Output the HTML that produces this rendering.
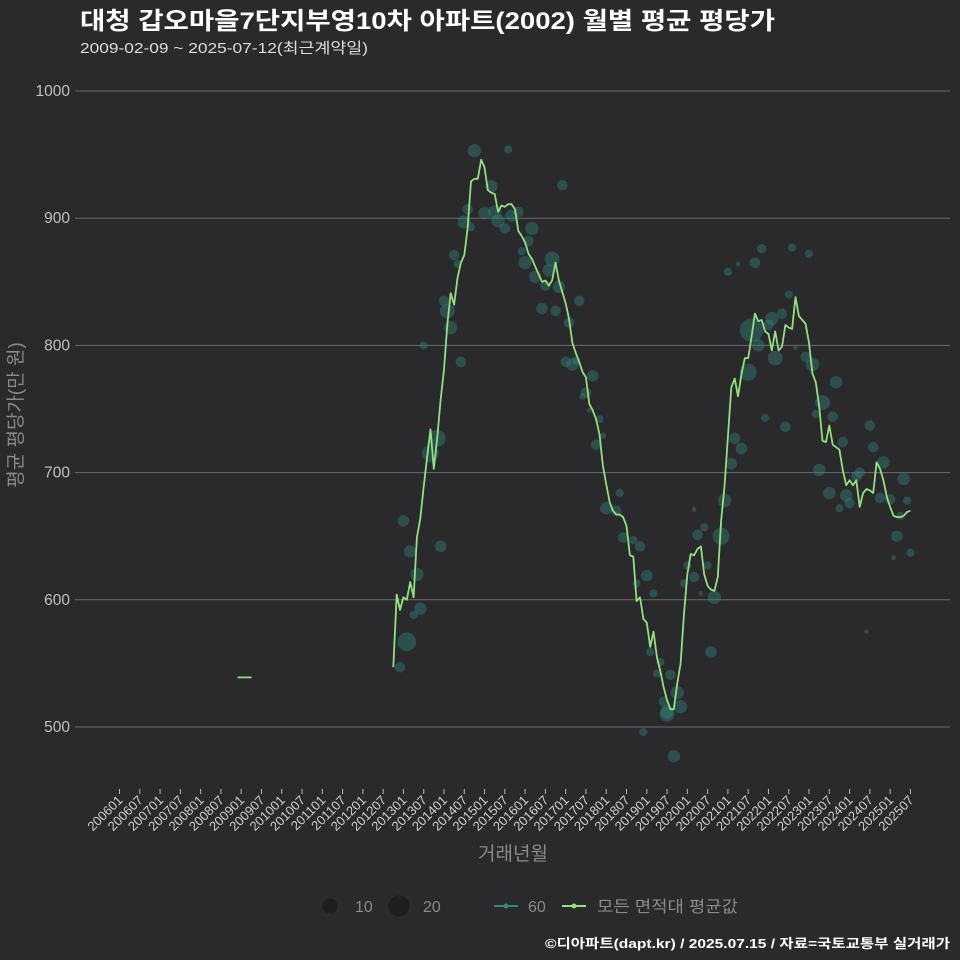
<!DOCTYPE html>
<html><head><meta charset="utf-8">
<style>
html,body{margin:0;padding:0;background:#2a2a2c;}
svg{display:block;font-family:"Liberation Sans","Noto Sans CJK KR",sans-serif;}
</style></head>
<body>
<svg id="chart" width="960" height="960" viewBox="0 0 960 960">
<rect x="0" y="0" width="960" height="960" fill="#2a2a2c"/>
<text x="80" y="29" font-size="24" font-weight="bold" fill="#ffffff" textLength="695" lengthAdjust="spacingAndGlyphs">대청 갑오마을7단지부영10차 아파트(2002) 월별 평균 평당가</text>
<text x="80" y="53" font-size="15" fill="#dddddd" textLength="288" lengthAdjust="spacingAndGlyphs">2009-02-09 ~ 2025-07-12(최근계약일)</text>
<g id="grid"></g>
<g id="yticks"></g>
<g id="xticks"></g>
<g id="bubbles"></g>
<g id="line"></g>
<text transform="translate(22,415) rotate(-90)" text-anchor="middle" font-size="19" fill="#8a8a8a">평균 평당가(만 원)</text>
<text x="513" y="860" text-anchor="middle" font-size="19" fill="#8a8a8a">거래년월</text>
<g>
<circle cx="330" cy="906" r="7.5" fill="#1e1e20"/>
<text x="355" y="912" font-size="16" fill="#8a8a8a">10</text>
<circle cx="399" cy="906" r="10.5" fill="#1e1e20"/>
<text x="423" y="912" font-size="16" fill="#8a8a8a">20</text>
<line x1="494" y1="906" x2="518" y2="906" stroke="#2a8a84" stroke-width="2"/>
<circle cx="506" cy="906" r="2.5" fill="#2a8a84"/>
<text x="528" y="912" font-size="16" fill="#8a8a8a">60</text>
<line x1="562" y1="906" x2="586" y2="906" stroke="#90e27c" stroke-width="2"/>
<circle cx="574" cy="906" r="2.5" fill="#90e27c"/>
<text x="597" y="912" font-size="16" fill="#8a8a8a" textLength="141" lengthAdjust="spacingAndGlyphs">모든 면적대 평균값</text>
</g>
<text x="950" y="948" text-anchor="end" font-size="13" font-weight="bold" fill="#ffffff" textLength="405" lengthAdjust="spacingAndGlyphs">©디아파트(dapt.kr) / 2025.07.15 / 자료=국토교통부 실거래가</text>
</svg>
<script>
const yTicks = [500, 600, 700, 800, 900, 1000];
const xTickLabels = ["200601","200607","200701","200707","200801","200807","200901","200907","201001","201007","201101","201107","201201","201207","201301","201307","201401","201407","201501","201507","201601","201607","201701","201707","201801","201807","201901","201907","202001","202007","202101","202107","202201","202207","202301","202307","202401","202407","202501","202507"];
const singleMonths = ["200902"];
const singleValues = [539];
const lineStart = "201210";
const lineValues = [547,604,592,602,600,614,602,649,664,689,712,734,703,727,757,781,817,841,832,853,865,871,892,929,931,931,946,940,922,920,919,905,910,909,911,911,907,890,886,881,872,868,862,856,850,851,847,851,865,851,842,833,821,802,794,787,779,775,754,749,742,730,706,691,677,670,667,667,665,658,635,634,599,602,585,582,563,575,555,544,531,521,514,514,534,550,589,620,636,635,640,642,620,611,608,607,618,662,689,728,767,774,760,777,790,790,807,825,819,820,811,809,796,811,796,799,816,814,813,838,823,820,817,802,778,771,752,725,724,737,722,720,718,702,690,694,690,694,673,684,687,686,684,708,703,694,681,673,666,665,665,666,669,670];
const bubbleMonths = ["201212","201302","201304","201306","201305","201303","201301","201312","201309","201311","201307","201406","201403","201402","201401","201404","201405","201407","201408","201409","201410","201508","201612","201501","201503","201504","201505","201507","201509","201511","201603","201602","201512","201601","201604","201607","201609","201608","201611","201606","201610","201705","201702","201701","201703","201704","201709","201707","201706","201708","201711","201712","201710","201805","201801","201804","201806","201809","201811","201901","201810","201903","201902","201905","201904","201908","201906","201907","201812","201910","201911","201907","201909","202008","202003","202006","202004","202001","202007","202003","201912","202005","202009","202011","202012","202102","202105","202103","202107","202108","202110","202112","202202","202201","202205","202203","202206","202207","202209","202109","202101","202104","202212","202302","202309","202305","202303","202308","202311","202304","202307","202310","202312","202401","202403","202404","202407","202408","202411","202410","202501","202505","202506","202504","202503","202507","202502","202406","202208","202111","202301"];
const bubbleValues = [547,567,588,593,620,638,662,642,715,727,800,787,814,827,835,871,864,897,907,893,953,954,926,904,925,905,898,892,902,905,892,882,874,865,854,847,868,859,846,829,827,835,818,787,785,788,776,763,760,749,742,729,722,684,672,670,649,647,642,619,613,605,559,551,542,541,520,512,496,527,516,510,477,559,671,657,651,627,627,618,613,605,602,650,678,707,719,727,779,812,800,743,821,816,825,790,736,840,798,865,858,864,791,785,771,755,746,744,724,702,684,672,682,676,697,700,737,720,708,680,679,695,678,666,650,637,633,575,877,876,872];
const bubbleCounts = [5,16,3,7,8,7,6,6,13,13,3,5,8,10,5,5,3,8,5,3,8,3,5,7,7,8,8,5,7,5,8,5,3,8,7,5,10,7,7,6,5,5,5,5,7,3,6,5,2,1,3,2,5,3,7,5,5,3,5,6,3,3,3,3,3,5,5,8,3,8,8,10,7,6,1,3,5,3,3,5,3,1,8,13,8,6,6,6,13,25,7,3,8,5,5,10,5,3,1,5,3,1,5,8,7,10,3,5,5,7,7,3,7,5,5,5,5,5,7,5,5,7,3,3,6,3,1,1,3,4,3];

const SVGNS = "http://www.w3.org/2000/svg";
const X0 = 119.5, MONTH_W = 3.38;
function monthIndex(s){ return (parseInt(s.slice(0,4))-2006)*12 + (parseInt(s.slice(4,6))-1); }
function xScale(s){ return X0 + monthIndex(s)*MONTH_W; }
function xScaleIdx(i){ return X0 + i*MONTH_W; }
function yScale(v){ return 727 - (v-500)*1.272; }
function mk(tag, attrs, parent){ const e=document.createElementNS(SVGNS,tag); for(const k in attrs) e.setAttribute(k, attrs[k]); parent.appendChild(e); return e; }

const grid = document.getElementById('grid');
const yt = document.getElementById('yticks');
yTicks.forEach(v=>{
  const gl = mk('line',{x1:75,x2:950,y1:yScale(v),y2:yScale(v),stroke:'#6a6a6a','stroke-width':1},grid);
  
  
  const t = mk('text',{x:70,y:yScale(v)+5,'text-anchor':'end','font-size':15.5,fill:'#c0c0c0'},yt);
  t.textContent = v;
  
  
});
const xt = document.getElementById('xticks');
xTickLabels.forEach(lbl=>{
  const x = xScale(lbl);
  const tk = mk('line',{x1:x,x2:x,y1:789,y2:794,stroke:'#bbbbbb','stroke-width':1},xt);
  
  
  const t = mk('text',{transform:`translate(${x+4},${801}) rotate(-45)`,'text-anchor':'end','font-size':13,fill:'#cfcfcf'},xt);
  t.textContent = lbl;
  
  
});
const bg = document.getElementById('bubbles');
bubbleMonths.forEach((m,i)=>{
  const c = mk('circle',{cx:xScale(m),cy:yScale(bubbleValues[i]),r:2.35*Math.sqrt(bubbleCounts[i]),fill:'#2f8f86','fill-opacity':0.38},bg);
  
  
});
const lg = document.getElementById('line');
const s0 = monthIndex(lineStart);
const pts = lineValues.map((v,i)=>xScaleIdx(s0+i).toFixed(1)+','+yScale(v).toFixed(1)).join(' ');
const pl = mk('polyline',{points:pts,fill:'none',stroke:'#90e27c','stroke-width':1.8,'stroke-linejoin':'round'},lg);


singleMonths.forEach((m,i)=>{
  const x = xScale(m), y = yScale(singleValues[i]);
  const sl = mk('line',{x1:x-7,x2:x+7,y1:y,y2:y,stroke:'#90e27c','stroke-width':1.8},lg);
  
  
});
</script>
</body></html>
